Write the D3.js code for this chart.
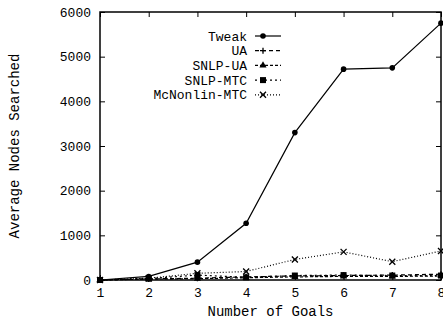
<!DOCTYPE html>
<html>
<head>
<meta charset="utf-8">
<script src="https://cdn.jsdelivr.net/npm/d3@7"></script>
<style>
  body { margin: 0; background: #fff; }
  text { font-family: "Liberation Mono", "DejaVu Sans Mono", monospace; fill: #000; }
</style>
</head>
<body>
<div class="chart"></div>
<script>
// data
var goals = [1, 2, 3, 4, 5, 6, 7, 8];
var tweak = [0, 80, 400, 1270, 3300, 4720, 4750, 5750];
var ua = [0, 25, 40, 70, 90, 100, 110, 130];
var snlpUa = [0, 20, 30, 50, 70, 80, 80, 90];
var snlpMtc = [0, 30, 110, 60, 100, 110, 100, 100];
var mcnonlin = [0, 40, 150, 190, 460, 630, 410, 650];
var seriesNames = ["Tweak", "UA", "SNLP-UA", "SNLP-MTC", "McNonlin-MTC"];
var yTicks = [0, 1000, 2000, 3000, 4000, 5000, 6000];

var series = [
  {name: seriesNames[0], values: tweak, dash: null, sym: "dot"},
  {name: seriesNames[1], values: ua, dash: "4,3", sym: "plus"},
  {name: seriesNames[2], values: snlpUa, dash: "3,2", sym: "tri"},
  {name: seriesNames[3], values: snlpMtc, dash: "2,3", sym: "square"},
  {name: seriesNames[4], values: mcnonlin, dash: "1,2", sym: "cross"}
];

var W = 443, H = 320;
var margin = {top: 12, right: 2, bottom: 40, left: 100};
var width = W - margin.left - margin.right,
    height = H - margin.top - margin.bottom;

var svg = d3.select(".chart").append("svg")
  .attr("width", W).attr("height", H)
  .append("g")
  .attr("transform", "translate(" + margin.left + "," + margin.top + ")");

var x = d3.scaleLinear().domain([1, 8]).range([0, width]);
var y = d3.scaleLinear().domain([0, 6000]).range([height, 0]);

// frame
svg.append("rect")
  .attr("width", width).attr("height", height)
  .style("fill", "none").style("stroke", "#000").style("stroke-width", 1.5);

// axes, ticks pointing inwards
svg.append("g")
  .attr("transform", "translate(0," + height + ")")
  .call(d3.axisBottom(x).tickValues(goals).tickSize(-5).tickPadding(8).tickFormat(d3.format("d")))
  .call(function (g) { g.select(".domain").remove(); g.selectAll("text").style("font-size", "13px"); });

svg.append("g")
  .call(d3.axisLeft(y).tickValues(yTicks).tickSize(-5).tickPadding(9).tickFormat(d3.format("d")))
  .call(function (g) { g.select(".domain").remove(); g.selectAll("text").style("font-size", "13px"); });

// mirrored ticks
svg.append("g")
  .call(d3.axisTop(x).tickValues(goals).tickSize(-5).tickFormat(""))
  .call(function (g) { g.select(".domain").remove(); });
svg.append("g")
  .attr("transform", "translate(" + width + ",0)")
  .call(d3.axisRight(y).tickValues(yTicks).tickSize(-5).tickFormat(""))
  .call(function (g) { g.select(".domain").remove(); });

// labels
svg.append("text")
  .attr("x", width / 2).attr("y", height + 36)
  .style("text-anchor", "middle").style("font-size", "14px")
  .text("Number of Goals");

svg.append("text")
  .attr("transform", "rotate(-90)")
  .attr("x", -height / 2).attr("y", -81)
  .style("text-anchor", "middle").style("font-size", "14px")
  .text("Average Nodes Searched");

function drawSymbol(g, kind, px, py) {
  if (kind === "dot") {
    g.append("circle").attr("cx", px).attr("cy", py).attr("r", 2.8).style("fill", "#000");
  } else if (kind === "plus") {
    g.append("path").attr("d", "M" + (px - 3) + "," + py + "h6M" + px + "," + (py - 3) + "v6")
      .style("stroke", "#000").style("stroke-width", 1.3);
  } else if (kind === "tri") {
    g.append("path").attr("d", d3.symbol().type(d3.symbolTriangle).size(22)())
      .attr("transform", "translate(" + px + "," + py + ")").style("fill", "#000");
  } else if (kind === "square") {
    g.append("rect").attr("x", px - 3).attr("y", py - 3).attr("width", 6).attr("height", 6).style("fill", "#000");
  } else {
    g.append("path").attr("d", "M" + (px - 3) + "," + (py - 3) + "l6,6M" + (px + 3) + "," + (py - 3) + "l-6,6")
      .style("stroke", "#000").style("stroke-width", 1.3);
  }
}

var line = d3.line()
  .x(function (d, i) { return x(goals[i]); })
  .y(function (d) { return y(d); });

series.slice().reverse().forEach(function (s) {
  var g = svg.append("g");
  g.append("path")
    .datum(s.values)
    .attr("d", line)
    .style("fill", "none").style("stroke", "#000").style("stroke-width", 1.2)
    .style("stroke-dasharray", s.dash);
  s.values.forEach(function (v, i) { drawSymbol(g, s.sym, x(goals[i]), y(v)); });
});

// legend
var legend = svg.append("g").attr("transform", "translate(147,24)");
series.forEach(function (s, i) {
  var ly = i * 14.7;
  legend.append("text")
    .attr("x", 0).attr("y", ly).attr("dy", "0.35em")
    .style("text-anchor", "end").style("font-size", "13px")
    .text(s.name);
  legend.append("line")
    .attr("x1", 8).attr("x2", 34).attr("y1", ly).attr("y2", ly)
    .style("stroke", "#000").style("stroke-width", 1.2)
    .style("stroke-dasharray", s.dash);
  drawSymbol(legend, s.sym, 16, ly);
});
</script>
</body>
</html>
